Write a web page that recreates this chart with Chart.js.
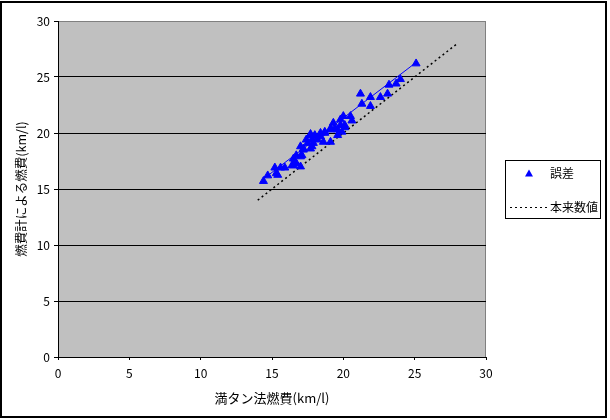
<!DOCTYPE html>
<html>
<head>
<meta charset="utf-8">
<script src="https://cdn.jsdelivr.net/npm/chart.js@4.4.1/dist/chart.umd.min.js"></script>
<style>
  html, body { margin: 0; padding: 0; background: #fff; }
  #wrap { width: 610px; height: 420px; position: relative; }
</style>
</head>
<body>
<div id="wrap"><canvas id="fuelChart" width="610" height="420"></canvas></div>
<script>
// 満タン法燃費 (x) vs 燃費計による燃費 (y)
var errX = [25.1, 24.0, 23.7, 23.2, 23.1, 22.6, 21.9, 21.2, 21.3, 21.9,
            20.6, 20.5, 20.0, 19.8, 20.1, 20.1, 19.8, 19.6, 19.4, 19.3,
            19.1, 19.1, 19.9, 19.6, 18.7, 18.7, 18.4, 18.4, 18.0, 18.0,
            17.7, 17.7, 18.2, 17.8, 17.4, 18.6, 19.1, 17.9, 17.5, 17.2,
            17.0, 17.8, 17.7, 17.2, 16.7, 17.1, 17.0, 16.5, 16.6, 16.7,
            16.5, 16.4, 17.0, 15.9, 15.6, 15.2, 15.3, 15.4, 14.7, 14.4];
var errY = [26.2, 24.8, 24.4, 24.3, 23.5, 23.2, 23.2, 23.5, 22.6, 22.4,
            21.1, 21.5, 21.5, 21.2, 20.5, 20.7, 20.7, 20.3, 20.4, 20.9,
            20.4, 20.3, 20.1, 19.8, 20.1, 20.0, 20.0, 19.7, 19.8, 19.7,
            19.9, 19.8, 19.4, 19.4, 19.4, 19.2, 19.2, 19.1, 19.1, 18.6,
            18.8, 18.8, 18.6, 18.5, 18.0, 18.0, 17.9, 17.7, 17.4, 17.3,
            17.1, 17.1, 17.0, 16.9, 16.9, 16.9, 16.4, 16.25, 16.2, 15.7];

// linear trend through the 誤差 points
var trendX = [14.4, 25.1];
var trendY = [15.9, 26.3];

// 本来数値 (y = x)
var idealX = [14, 28];
var idealY = [14, 28];

var legendLabels = ['誤差', '本来数値'];
var xTitle = '満タン法燃費(km/l)';
var yTitle = '燃費計による燃費(km/l)';

var jpFont = '"Noto Sans CJK JP", "Noto Sans", sans-serif';

function toPoints(xs, ys) {
    return xs.map(function (x, i) { return { x: x, y: ys[i] }; });
}

// gray plot area, outer frame and the legend box
var excelLook = {
    id: 'excelLook',
    beforeDraw: function (chart) {
        var ctx = chart.ctx;
        var a = chart.chartArea;
        ctx.save();
        ctx.fillStyle = '#fff';
        ctx.fillRect(0, 0, chart.width, chart.height);
        ctx.fillStyle = '#c0c0c0';
        ctx.fillRect(a.left, a.top, a.right - a.left, a.bottom - a.top);
        ctx.strokeStyle = '#808080';
        ctx.lineWidth = 1;
        ctx.strokeRect(a.left + 0.5, a.top + 0.5, a.right - a.left - 1, a.bottom - a.top);
        ctx.restore();
    },
    afterDraw: function (chart) {
        var ctx = chart.ctx;
        ctx.save();
        // outer frame
        ctx.strokeStyle = '#000';
        ctx.lineWidth = 2;
        ctx.strokeRect(1, 2, 605, 415);

        // legend
        ctx.lineWidth = 1;
        ctx.strokeRect(505.5, 160.5, 95, 58);
        ctx.fillStyle = '#0000ff';
        ctx.beginPath();
        ctx.moveTo(529, 169.5);
        ctx.lineTo(533, 176.5);
        ctx.lineTo(525, 176.5);
        ctx.closePath();
        ctx.fill();

        ctx.strokeStyle = '#000';
        ctx.setLineDash([2, 3]);
        ctx.beginPath();
        ctx.moveTo(510, 207.5);
        ctx.lineTo(549, 207.5);
        ctx.stroke();
        ctx.setLineDash([]);

        ctx.fillStyle = '#000';
        ctx.font = '12px ' + jpFont;
        ctx.textBaseline = 'middle';
        ctx.fillText(legendLabels[0], 550, 173);
        ctx.fillText(legendLabels[1], 550, 207);
        ctx.restore();
    }
};

var ctx = document.getElementById('fuelChart').getContext('2d');
new Chart(ctx, {
    type: 'scatter',
    data: {
        datasets: [{
            label: legendLabels[0],
            data: toPoints(errX, errY),
            pointStyle: 'triangle',
            pointRadius: 4.6,
            pointBackgroundColor: '#0000ff',
            pointBorderColor: '#0000ff',
            pointBorderWidth: 1,
            showLine: false,
            order: 1
        }, {
            label: 'trend',
            data: toPoints(trendX, trendY),
            showLine: true,
            borderColor: '#0000ff',
            borderWidth: 1,
            pointRadius: 0,
            order: 2
        }, {
            label: legendLabels[1],
            data: toPoints(idealX, idealY),
            showLine: true,
            borderColor: '#000',
            borderWidth: 1.5,
            borderDash: [2, 3],
            pointRadius: 0,
            order: 3
        }]
    },
    options: {
        responsive: false,
        animation: false,
        layout: { padding: { left: 0, top: 21, right: 124, bottom: 0 } },
        plugins: {
            legend: { display: false },
            tooltip: { enabled: false }
        },
        scales: {
            x: {
                type: 'linear',
                min: 0, max: 30,
                afterFit: function (s) { s.height = 63; },
                ticks: { stepSize: 5, color: '#000', padding: 6, font: { family: jpFont, size: 12 } },
                grid: { display: true, drawOnChartArea: false, tickLength: 3, color: '#000' },
                border: { color: '#000', width: 1 },
                title: {
                    display: true, text: xTitle, color: '#000',
                    font: { family: jpFont, size: 13 },
                    padding: { top: 0, bottom: 14 }
                }
            },
            y: {
                type: 'linear',
                min: 0, max: 30,
                afterFit: function (s) { s.width = 58; },
                ticks: { stepSize: 5, color: '#000', padding: 4, font: { family: jpFont, size: 12 } },
                grid: {
                    tickLength: 4,
                    color: function (c) {
                        return (c.tick && c.tick.value > 0 && c.tick.value < 30) ? '#000' : 'rgba(0,0,0,0)';
                    },
                    tickColor: '#000'
                },
                border: { color: '#000', width: 1 },
                title: {
                    display: true, text: yTitle, color: '#000',
                    font: { family: jpFont, size: 12.5 },
                    padding: { top: 14, bottom: 0 }
                }
            }
        }
    },
    plugins: [excelLook]
});
</script>
</body>
</html>
